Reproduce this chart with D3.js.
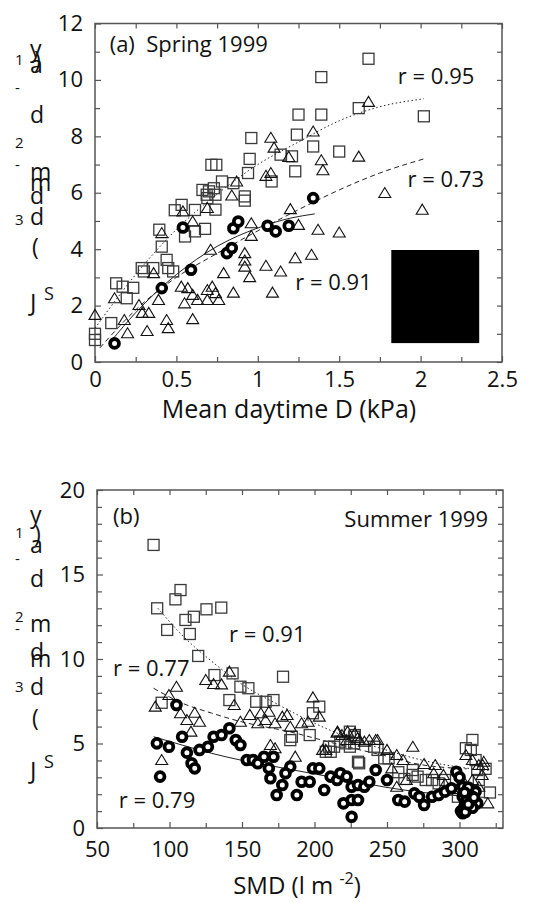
<!DOCTYPE html>
<html>
<head>
<meta charset="utf-8">
<script src="https://cdn.jsdelivr.net/npm/d3@7"></script>
<style>
  body { margin: 0; background: #fff; }
  svg text { font-family: "Open Sans", "DejaVu Sans", sans-serif; fill: #111; }
</style>
</head>
<body>
<svg id="chart" width="545" height="903"></svg>
<script>
// ---- panel (a) Spring 1999 : [mean daytime D (kPa), Js] ----
var springSquares = [[0.00,0.78],[0.00,1.00],[0.10,1.38],[0.13,2.79],[0.17,2.67],[0.235,2.63],[0.195,2.26],
  [0.30,3.21],[0.287,3.33],[0.358,3.33],[0.45,3.33],[0.48,3.21],[0.44,3.62],[0.41,4.09],[0.395,4.69],
  [0.553,4.45],[0.614,4.63],[0.676,4.72],[0.49,5.38],[0.532,5.57],[0.614,5.39],[0.686,5.93],[0.69,5.81],
  [0.70,6.05],[0.73,6.16],[0.74,5.93],[0.74,5.40],[0.66,6.10],[0.715,6.99],[0.745,6.99],[0.78,6.40],
  [0.85,6.34],[0.92,5.87],[0.92,5.72],[0.94,6.70],[0.95,7.20],[0.96,7.94],[1.085,6.40],[1.14,7.35],
  [1.21,7.29],[1.23,6.76],[1.24,8.06],[1.25,8.77],[1.34,7.64],[1.39,8.77],[1.39,10.10],[1.50,7.46],
  [1.62,9.00],[1.68,10.75],[2.02,8.71]];
var springTriangles = [[0.00,1.67],[0.12,2.26],[0.18,1.49],[0.20,1.02],[0.27,2.02],[0.29,1.74],[0.33,1.74],
  [0.32,1.10],[0.36,3.15],[0.39,2.20],[0.41,4.57],[0.44,1.49],[0.45,1.20],[0.53,2.67],[0.55,2.08],
  [0.57,2.62],[0.60,2.38],[0.60,1.52],[0.60,4.98],[0.63,2.20],[0.54,5.34],[0.69,2.55],[0.69,2.20],
  [0.69,5.46],[0.71,3.98],[0.72,2.67],[0.74,2.44],[0.76,2.20],[0.79,3.15],[0.85,2.46],[0.84,5.90],
  [0.87,6.40],[0.92,3.86],[0.92,3.60],[0.92,3.38],[0.95,3.01],[0.96,4.47],[0.96,4.92],[1.05,3.41],
  [1.05,6.60],[1.08,6.70],[1.08,7.95],[1.09,2.46],[1.10,7.60],[1.14,3.21],[1.19,7.27],[1.20,5.42],
  [1.23,3.68],[1.25,4.86],[1.33,3.80],[1.34,8.17],[1.37,4.69],[1.39,7.15],[1.40,6.80],[1.50,4.59],
  [1.62,7.28],[1.68,9.22],[1.78,5.99],[2.01,5.40]];
var springCircles = [[0.12,0.66],[0.41,2.62],[0.59,3.27],[0.54,4.77],[0.81,3.86],[0.84,4.04],[0.85,4.74],
  [0.88,4.98],[1.06,4.83],[1.11,4.63],[1.19,4.83],[1.34,5.81]];
// fitted curves
var springFitSquares = [[0.00,1.20],[0.25,3.10],[0.50,4.70],[0.75,5.95],[1.00,7.00],[1.25,7.80],[1.50,8.55],[1.75,9.05],[2.02,9.33]];
var springFitTriangles = [[0.03,0.50],[0.25,1.85],[0.50,3.00],[0.75,3.85],[1.00,4.65],[1.25,5.40],[1.50,6.10],[1.75,6.70],[2.02,7.20]];
var springFitCircles = [[0.10,0.75],[0.25,1.75],[0.50,3.10],[0.75,4.10],[1.00,4.75],[1.20,5.10],[1.35,5.25]];
var springXTicks = [0, 0.5, 1, 1.5, 2, 2.5];
var springXMinor = [0.25, 0.75, 1.25, 1.75, 2.25];
var springYTicks = [0, 2, 4, 6, 8, 10, 12];
var springYMinor = [1, 3, 5, 7, 9, 11];
var springNotes = [["(a)  Spring 1999", 0.09, 11.0], ["r = 0.95", 1.86, 9.85], ["r = 0.73", 1.92, 6.2], ["r = 0.91", 1.23, 2.55]];

// ---- panel (b) Summer 1999 : [SMD (l m-2), Js] ----
var summerSquares = [[89,16.75],[91.5,13.0],[98.4,11.72],[104.1,13.53],[107.6,14.08],[111,12.31],[116.8,12.5],
  [114,11.48],[119.8,10.18],[125.5,12.94],[135.7,13.04],[131,9.05],[143.5,9.15],[141.3,7.57],[148.9,8.36],
  [154.4,8.27],[159.8,7.47],[166.3,7.47],[171.7,7.57],[178.3,8.95],[94.6,7.41],[203.3,7.18],[198.9,6.79],
  [184.4,5.40],[196.7,5.50],[183.3,5.2],[207.8,4.51],[210,4.81],[224.4,5.70],[227.8,5.50],[224.4,4.81],
  [221.1,5.01],[217.8,5.11],[230,3.92],[241.1,4.81],[251.1,4.12],[243.5,4.62],[248.1,4.12],[230.8,3.83],
  [227.3,5.01],[227.3,5.40],[213.5,4.81],[211.2,4.51],[267.8,3.43],[271.1,3.04],[276.7,2.84],[281.1,2.84],
  [285.6,2.64],[290,2.84],[308.9,5.21],[304.4,4.72],[307.8,4.62],[311.1,4.02],[312.2,3.43],[313.3,2.84],
  [306.7,2.05],[298.9,1.85],[318,3.5],[321,2.1],[257.8,3.3],[262,2.9],[267.7,3.14]];
var summerTriangles = [[90.2,7.18],[99.6,7.87],[104.8,8.36],[107.6,6.79],[112,6.39],[117.4,6.82],[120.7,6.29],
  [114.8,5.70],[94.6,4.02],[125,8.76],[130.4,8.52],[135.9,8.5],[141.3,9.25],[144.6,7.28],[148.9,6.29],
  [155.4,6.69],[160.9,6.2],[166.3,6.39],[172.8,6.2],[163,6.79],[168.5,6.88],[169.6,4.91],[172.8,4.72],
  [198.9,7.73],[203.3,6.59],[177.8,6.59],[181.1,6.69],[183.3,5.99],[191.1,6.2],[195.6,6.29],[215.6,5.64],
  [218.9,5.50],[222.2,5.21],[227.8,5.60],[231.1,5.21],[234.4,5.11],[237.8,5.21],[242.2,5.21],[205.6,4.62],
  [207.8,4.62],[186.7,4.22],[250,4.62],[256.7,4.32],[261.1,4.02],[253.3,3.53],[267.8,4.81],[275.6,3.79],
  [282.2,3.24],[288.9,3.14],[283.3,3.73],[256.7,2.44],[263.3,2.84],[304.4,4.32],[308.9,4.02],[313.3,3.73],
  [315.6,3.14],[313.3,2.44],[308.9,2.84],[302.2,2.84],[316.7,3.92],[319.5,1.46],[316,3.73],[215.9,5.70],
  [222.8,5.70],[229.7,5.31],[243.5,5.21],[295,2.3],[290,2.6]];
var summerCircles = [[104.8,7.28],[91.3,5.01],[99.6,4.81],[108.7,5.40],[112,4.46],[120.7,4.62],[126.5,4.81],
  [115.2,3.83],[117.4,3.53],[130.4,5.40],[135.9,5.50],[141.3,5.90],[145.7,5.21],[148.9,4.91],[93.5,3.04],
  [153.3,4.02],[157.6,4.02],[160.9,3.83],[165.2,4.22],[168.5,3.53],[169.6,2.94],[173.9,1.95],[171.7,4.22],
  [177.8,2.54],[187.8,1.95],[183.3,3.63],[180,3.24],[191.1,2.74],[196.7,2.74],[198.9,3.53],[203.3,3.53],
  [206.7,2.25],[211.1,3.04],[215.6,2.84],[217.8,3.24],[222.2,3.04],[220,1.46],[225.6,1.66],[230,1.66],
  [225.6,2.44],[230,2.54],[234.4,2.44],[225.6,0.67],[237.8,2.74],[242.2,3.43],[250,2.84],[257.8,1.66],
  [262.2,1.56],[268.9,2.05],[272.2,1.85],[275.6,1.36],[281.1,1.85],[285.6,1.95],[290,2.15],[294.4,2.35],
  [297.8,3.33],[302.2,2.44],[302.2,1.85],[303.3,1.26],[302.2,0.87],[306.7,2.05],[307.8,1.66],[311.1,2.15],
  [312.2,1.46],[304,1.5],[309,1.2],[301,1.0],[303,1.1],[305,1.7],[306,2.4],[308,1.9],[304,0.95],[306,1.4],
  [310,1.8],[303.5,2.1],[300,3.0]];
var summerFitSquares = [[92,13.0],[110,11.3],[130,9.8],[150,8.5],[175,7.3],[200,6.2],[225,5.3],[250,4.6],[275,4.0],[300,3.6],[320,3.4]];
var summerFitTriangles = [[89,8.27],[109,7.38],[129,6.8],[149,6.3],[165,6.0],[180,5.75],[203,5.25],[230,4.65],[250,4.25],[270,3.8],[295,3.55],[305,3.5]];
var summerFitCircles = [[89,5.4],[109,4.9],[129,4.42],[149,4.02],[175,3.6],[200,3.2],[225,2.8],[250,2.4],[275,2.1],[300,1.9],[320,1.8]];
var summerXTicks = [50, 100, 150, 200, 250, 300];
var summerXMinor = [75, 125, 175, 225, 275, 325];
var summerYTicks = [0, 5, 10, 15, 20];
var summerYMinor = d3.range(1, 20).filter(function (v) { return v % 5 != 0; });
var summerNotes = [["(b)", 61, 18.0], ["r = 0.91", 141, 11.0], ["r = 0.77", 61, 9.0], ["r = 0.79", 65, 1.2]];

// garbled rotated y title, glyph by glyph: [text, x, baseline, size]
var yTitleTop = [["y",30,57,23],[")",34,68,23],["a",30,73,23],["d",30,123,23],["m",30,180,23],["m",30,191,23],
  ["d",30,204,23],["d",30,225,23],["(",32,255,23],["J",30,311,24],["1",15,65,15],["-",15,93,15],
  ["2",15,148,15],["-",15,170,15],["3",15,225,15],["S",44,300,18]];
var yTitleBottom = [["y",30,523,23],[")",34,542,23],["a",30,553,23],["d",30,587,23],["m",30,632,23],
  ["d",30,660,23],["m",30,667,23],["d",30,695,23],["(",32,726,23],["J",30,779,24],["1",15,538,15],
  ["-",15,564,15],["2",15,622,15],["-",15,634,15],["3",15,692,15],["S",44,768,18]];

var svg = d3.select("#chart");

function drawPanel(p) {
  var x = d3.scaleLinear().domain(p.xDomain).range([p.left, p.right]);
  var y = d3.scaleLinear().domain(p.yDomain).range([p.bottom, p.top]);
  var g = svg.append("g");

  // inward minor ticks on all four sides
  function minor(axis, tr, vals, len) {
    var a = g.append("g").attr("transform", tr)
      .call(axis.tickValues(vals).tickSize(-len).tickSizeOuter(0).tickFormat(""));
    a.select(".domain").remove();
    a.selectAll("line").attr("stroke", "#555").attr("stroke-width", 1.2);
  }
  var allX = p.xTicks.concat(p.xMinor), allY = p.yTicks.concat(p.yMinor);
  minor(d3.axisTop(x), "translate(0," + p.top + ")", allX, 5);
  minor(d3.axisRight(y), "translate(" + p.right + ",0)", allY, 5);
  minor(d3.axisBottom(x), "translate(0," + p.bottom + ")", p.xMinor, 5);
  minor(d3.axisLeft(y), "translate(" + p.left + ",0)", p.yMinor, 5);

  var xa = g.append("g").attr("transform", "translate(0," + p.bottom + ")")
    .call(d3.axisBottom(x).tickValues(p.xTicks).tickSize(-6).tickSizeOuter(0).tickPadding(p.xPad).tickFormat(d3.format("")));
  var ya = g.append("g").attr("transform", "translate(" + p.left + ",0)")
    .call(d3.axisLeft(y).tickValues(p.yTicks).tickSize(-6).tickSizeOuter(0).tickPadding(12));
  [xa, ya].forEach(function (a) {
    a.select(".domain").remove();
    a.selectAll("line").attr("stroke", "#555").attr("stroke-width", 1.2);
    a.selectAll("text").attr("font-size", 22).attr("fill", "#111");
  });

  g.append("rect").attr("x", p.left).attr("y", p.top)
    .attr("width", p.right - p.left).attr("height", p.bottom - p.top)
    .attr("fill", "none").attr("stroke", "#555").attr("stroke-width", 1.5);

  // fitted curves
  var line = d3.line().x(function (d) { return x(d[0]); }).y(function (d) { return y(d[1]); }).curve(d3.curveMonotoneX);
  [[p.fitSq, "1.5,2.5"], [p.fitTri, "5,3.5"], [p.fitCirc, null]].forEach(function (f) {
    g.append("path").datum(f[0]).attr("d", line).attr("fill", "none")
      .attr("stroke", "#222").attr("stroke-width", 1).attr("stroke-dasharray", f[1]);
  });

  g.selectAll(".sq").data(p.squares).enter().append("rect")
    .attr("x", function (d) { return x(d[0]) - 5.5; })
    .attr("y", function (d) { return y(d[1]) - 5.5; })
    .attr("width", 11).attr("height", 11)
    .attr("fill", "none").attr("stroke", "#3a3a3a").attr("stroke-width", 1.3);

  g.selectAll(".tri").data(p.triangles).enter().append("path")
    .attr("d", "M-6,4.5L6,4.5L0,-5.5Z")
    .attr("transform", function (d) { return "translate(" + x(d[0]) + "," + y(d[1]) + ")"; })
    .attr("fill", "none").attr("stroke", "#111").attr("stroke-width", 1.1);

  g.selectAll(".circ").data(p.circles).enter().append("circle")
    .attr("cx", function (d) { return x(d[0]); })
    .attr("cy", function (d) { return y(d[1]); })
    .attr("r", 4.4).attr("fill", "#fff").attr("stroke", "#000").attr("stroke-width", 3.8);

  if (p.box) {
    g.append("rect").attr("x", x(p.box[0])).attr("y", y(p.box[3]))
      .attr("width", x(p.box[1]) - x(p.box[0])).attr("height", y(p.box[2]) - y(p.box[3]))
      .attr("fill", "#000");
  }

  g.selectAll(".note").data(p.notes).enter().append("text")
    .attr("x", function (d) { return x(d[1]); })
    .attr("y", function (d) { return y(d[2]); })
    .attr("font-size", 22).style("white-space", "pre")
    .text(function (d) { return d[0]; });

  // garbled y title
  g.selectAll(".yt").data(p.yTitle).enter().append("text")
    .attr("x", function (d) { return d[1]; }).attr("y", function (d) { return d[2]; })
    .attr("font-size", function (d) { return d[3]; })
    .text(function (d) { return d[0]; });
  return g;
}

drawPanel({
  xDomain: [0, 2.5], yDomain: [0, 12], left: 95, right: 502, top: 23.5, bottom: 362, xPad: 9,
  xTicks: springXTicks, xMinor: springXMinor, yTicks: springYTicks, yMinor: springYMinor,
  squares: springSquares, triangles: springTriangles, circles: springCircles,
  fitSq: springFitSquares, fitTri: springFitTriangles, fitCirc: springFitCircles,
  notes: springNotes, box: [1.82, 2.36, 0.67, 3.97], yTitle: yTitleTop
});
drawPanel({
  xDomain: [50, 330], yDomain: [0, 20], left: 97, right: 503, top: 490, bottom: 828, xPad: 13,
  xTicks: summerXTicks, xMinor: summerXMinor, yTicks: summerYTicks, yMinor: summerYMinor,
  squares: summerSquares, triangles: summerTriangles, circles: summerCircles,
  fitSq: summerFitSquares, fitTri: summerFitTriangles, fitCirc: summerFitCircles,
  notes: summerNotes, box: null, yTitle: yTitleBottom
});
svg.append("text").attr("x", 488).attr("y", 527).attr("font-size", 22)
  .attr("text-anchor", "end").text("Summer 1999");

// axis titles
svg.append("text").attr("x", 289).attr("y", 418).attr("font-size", 25)
  .attr("text-anchor", "middle").text("Mean daytime D (kPa)");
var t = svg.append("text").attr("x", 297).attr("y", 894).attr("font-size", 24).attr("text-anchor", "middle");
t.append("tspan").text("SMD (l m ");
t.append("tspan").attr("font-size", 16).attr("dy", -10).text("-2");
t.append("tspan").attr("dy", 10).text(")");
</script>
</body>
</html>
